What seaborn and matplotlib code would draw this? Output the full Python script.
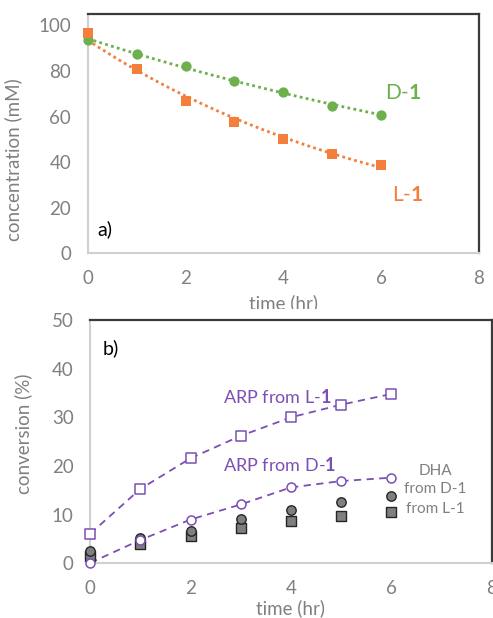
import numpy as np
import pandas as pd
import matplotlib
matplotlib.use("Agg")
import matplotlib.pyplot as plt
import seaborn as sns
from matplotlib.patches import Rectangle

# ---------------- data ----------------
time_hr = [0, 1, 2, 3, 4, 5, 6]
conc_D1 = [93.6, 87.6, 82.2, 75.4, 70.8, 64.8, 60.8]
conc_L1 = [96.8, 80.8, 67.0, 57.6, 50.3, 43.6, 38.9]

arp_from_L1 = [6.1, 15.3, 21.6, 26.2, 30.0, 32.6, 34.8]
arp_from_D1 = [0.1, 4.8, 9.0, 12.1, 15.6, 16.9, 17.6]
dha_from_D1 = [2.6, 5.1, 6.7, 9.1, 10.9, 12.5, 13.8]
dha_from_L1 = [1.6, 3.9, 5.7, 7.3, 8.6, 9.7, 10.6]

x_ticks = [0, 2, 4, 6, 8]
y_ticks_a = [0, 20, 40, 60, 80, 100]
y_ticks_b = [0, 10, 20, 30, 40, 50]

GREEN = "#6fb04e"
ORANGE = "#f47f3c"
PURPLE = "#7b4fb3"
GRAY_TXT = "#808080"
AX_LIGHT = "#d0d0d0"
AX_DARK = "#3a3a3a"

sns.set_theme(style="white")
plt.rcParams["font.family"] = ["Lato", "DejaVu Sans"]
plt.rcParams["mathtext.fontset"] = "custom"
plt.rcParams["mathtext.rm"] = "Lato"
plt.rcParams["mathtext.bf"] = "Lato:bold"

fig = plt.figure(figsize=(4.93, 6.18), dpi=100)
W, H = 493, 618

def px_axes(l, t, r, b, z=0):
    return fig.add_axes([l / W, 1 - b / H, (r - l) / W, (b - t) / H], zorder=z)

def style(ax):
    for s in ("left", "bottom"):
        ax.spines[s].set_color(AX_LIGHT)
        ax.spines[s].set_linewidth(1.5)
    for s in ("top", "right"):
        ax.spines[s].set_color(AX_DARK)
        ax.spines[s].set_linewidth(1.6)
    ax.tick_params(axis="both", length=0, labelsize=13.5, colors=GRAY_TXT, pad=12)
    ax.grid(False)

# ---------------- panel a ----------------
ax1 = px_axes(87.7, 14, 479, 253.3, z=0)
df_a = pd.DataFrame({"t": time_hr, "D1": conc_D1, "L1": conc_L1})
t_fit = np.linspace(min(time_hr), max(time_hr), 100)
for col, color in (("D1", GREEN), ("L1", ORANGE)):
    k, c = np.polyfit(df_a["t"], np.log(df_a[col]), 1)
    sns.lineplot(x=t_fit, y=np.exp(c + k * t_fit), ax=ax1, color=color,
                 lw=2.0, linestyle=(0, (1, 1.2)), zorder=2)
sns.scatterplot(data=df_a, x="t", y="D1", ax=ax1, marker="o", s=55,
                color=GREEN, edgecolor=GREEN, linewidth=0, zorder=3, clip_on=False)
sns.scatterplot(data=df_a, x="t", y="L1", ax=ax1, marker="s", s=50,
                color=ORANGE, edgecolor=ORANGE, linewidth=0, zorder=3, clip_on=False)
ax1.set_xlim(0, 8)
ax1.set_ylim(0, 105)
ax1.set_xticks(x_ticks)
ax1.set_yticks(y_ticks_a)
style(ax1)
ax1.set_xlabel("time (hr)", fontsize=13.5, color=GRAY_TXT, labelpad=5.5)
ax1.set_ylabel("concentration (mM)", fontsize=13.5, color=GRAY_TXT)
ax1.yaxis.set_label_coords(-0.168, 0.39)
ax1.text(6.08, 70.3, r"D-$\mathbf{1}$", color=GREEN, fontsize=15, va="center", ha="left")
ax1.text(6.22, 25.6, r"L-$\mathbf{1}$", color=ORANGE, fontsize=15, va="center", ha="left")
ax1.text(0.19, 10.7, "a)", color="black", fontsize=14, va="center", ha="left")

# white band that cuts off the lower part of panel a's x label
fig.add_artist(Rectangle((0, 0), 1, 1 - 309 / H, transform=fig.transFigure,
                         facecolor="white", edgecolor="none", zorder=1))

# ---------------- panel b ----------------
ax2 = px_axes(90.3, 320, 491.7, 563.3, z=2)
df_b = pd.DataFrame({"t": time_hr, "arpL": arp_from_L1, "arpD": arp_from_D1,
                     "dhaD": dha_from_D1, "dhaL": dha_from_L1})
sns.lineplot(data=df_b, x="t", y="arpL", ax=ax2, color=PURPLE, lw=1.3,
             linestyle=(0, (4, 3)), zorder=2)
sns.lineplot(data=df_b, x="t", y="arpD", ax=ax2, color=PURPLE, lw=1.3,
             linestyle=(0, (4, 3)), zorder=2)
sns.scatterplot(data=df_b, x="t", y="dhaL", ax=ax2, marker="s", s=42,
                color="#7f7f7f", edgecolor="#262626", linewidth=1.0, zorder=3, clip_on=False)
sns.scatterplot(data=df_b, x="t", y="dhaD", ax=ax2, marker="o", s=46,
                color="#7f7f7f", edgecolor="#262626", linewidth=1.0, zorder=3, clip_on=False)
sns.scatterplot(data=df_b, x="t", y="arpL", ax=ax2, marker="s", s=46,
                facecolor="white", edgecolor=PURPLE, linewidth=1.1, zorder=4, clip_on=False)
sns.scatterplot(data=df_b, x="t", y="arpD", ax=ax2, marker="o", s=42,
                facecolor="white", edgecolor=PURPLE, linewidth=1.1, zorder=4, clip_on=False)
ax2.set_xlim(0, 8)
ax2.set_ylim(0, 50)
ax2.set_xticks(x_ticks)
ax2.set_yticks(y_ticks_b)
style(ax2)
ax2.set_xlabel("time (hr)", fontsize=13.5, color=GRAY_TXT, labelpad=1.5)
ax2.set_ylabel("conversion (%)", fontsize=13.5, color=GRAY_TXT)
ax2.yaxis.set_label_coords(-0.145, 0.531)
ax2.text(2.64, 34.2, r"ARP from L-$\mathbf{1}$", color=PURPLE, fontsize=13, va="center", ha="left")
ax2.text(2.64, 20.2, r"ARP from D-$\mathbf{1}$", color=PURPLE, fontsize=13, va="center", ha="left")
ax2.text(6.87, 19.0, "DHA", color=GRAY_TXT, fontsize=11, va="center", ha="center")
ax2.text(6.87, 15.3, "from D-1", color=GRAY_TXT, fontsize=11, va="center", ha="center")
ax2.text(6.87, 11.2, "from L-1", color=GRAY_TXT, fontsize=11, va="center", ha="center")
ax2.text(0.25, 44.3, "b)", color="black", fontsize=14, va="center", ha="left")

fig.savefig("out.png", dpi=100)
